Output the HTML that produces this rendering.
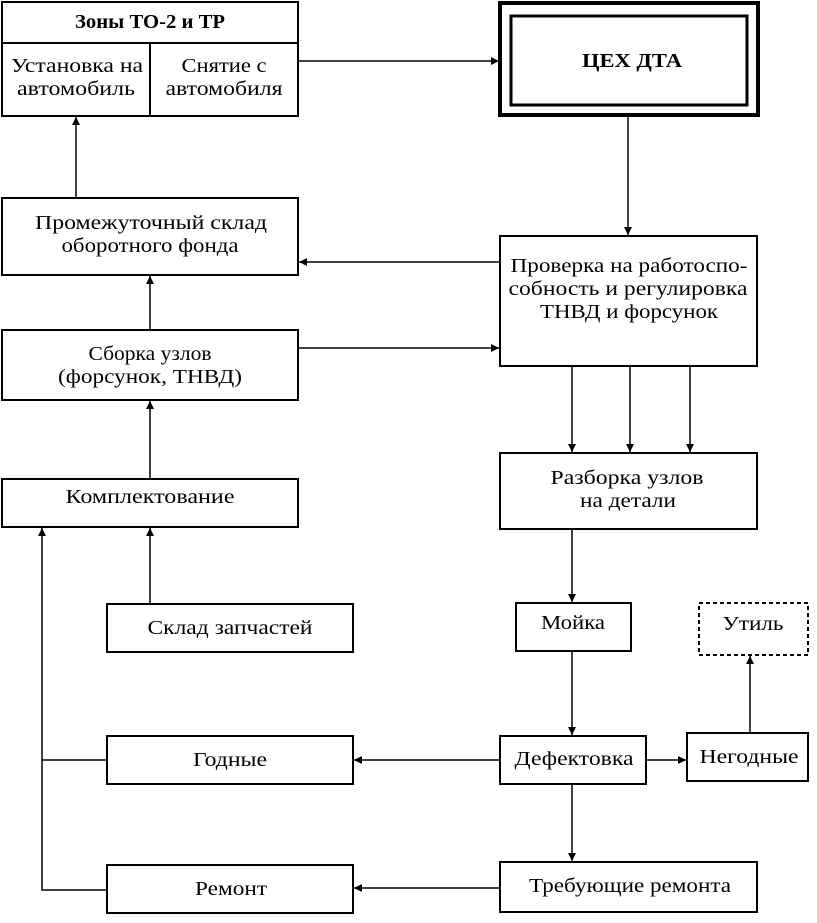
<!DOCTYPE html>
<html><head><meta charset="utf-8"><style>
body{margin:0;background:#fff}
text{font-family:"Liberation Serif",serif;font-size:20px;fill:#000;text-anchor:middle}
</style></head><body>
<svg width="817" height="918" viewBox="0 0 817 918" xmlns="http://www.w3.org/2000/svg">
<defs><marker id="a" viewBox="0 0 10 10" refX="10" refY="5" markerWidth="10" markerHeight="8" markerUnits="userSpaceOnUse" orient="auto"><path d="M0,0L10,5L0,10z"/></marker></defs>
<g fill="none" stroke="#000" stroke-width="2">
<rect x="2" y="2" width="296" height="114"/>
<line x1="2" y1="43" x2="298" y2="43"/>
<line x1="150" y1="43" x2="150" y2="116"/>
<rect x="500" y="3" width="258" height="112" stroke-width="4"/>
<rect x="511" y="16" width="236" height="89" stroke-width="3"/>
<rect x="2" y="198" width="296" height="77"/>
<rect x="500" y="236" width="257" height="130"/>
<rect x="2" y="330" width="296" height="70"/>
<rect x="500" y="453" width="257" height="76"/>
<rect x="2" y="479" width="296" height="48"/>
<rect x="107" y="604" width="246" height="48"/>
<rect x="516" y="603" width="115" height="48"/>
<rect x="699" y="603" width="109" height="52" stroke-dasharray="4,3"/>
<rect x="107" y="736" width="246" height="48"/>
<rect x="500" y="736" width="146" height="48"/>
<rect x="687" y="733" width="121" height="48"/>
<rect x="107" y="865" width="246" height="48"/>
<rect x="500" y="862" width="257" height="50"/>
</g>
<g stroke="#000" stroke-width="1.5" fill="none" marker-end="url(#a)">
<line x1="298" y1="61" x2="499" y2="61"/>
<line x1="628" y1="117" x2="628" y2="235"/>
<line x1="500" y1="262" x2="299" y2="262"/>
<line x1="76" y1="198" x2="76" y2="117"/>
<line x1="150" y1="330" x2="150" y2="276"/>
<line x1="298" y1="348" x2="499" y2="348"/>
<line x1="572" y1="366" x2="572" y2="452"/>
<line x1="630" y1="366" x2="630" y2="452"/>
<line x1="690" y1="366" x2="690" y2="452"/>
<line x1="150" y1="479" x2="150" y2="401"/>
<line x1="150" y1="604" x2="150" y2="528"/>
<polyline points="107,890 42,890 42,528"/>
<line x1="572" y1="529" x2="572" y2="602"/>
<line x1="572" y1="651" x2="572" y2="735"/>
<line x1="500" y1="760" x2="354" y2="760"/>
<line x1="646" y1="760" x2="686" y2="760"/>
<line x1="750" y1="733" x2="750" y2="656"/>
<line x1="572" y1="784" x2="572" y2="861"/>
<line x1="500" y1="888" x2="354" y2="888"/>
</g>
<line x1="42" y1="760" x2="107" y2="760" stroke="#000" stroke-width="1.5"/>
<g lengthAdjust="spacingAndGlyphs">
<text x="150" y="28" font-weight="bold" textLength="150" lengthAdjust="spacingAndGlyphs">Зоны ТО-2 и ТР</text>
<text x="77" y="72" textLength="132" lengthAdjust="spacingAndGlyphs">Установка на</text><text x="76" y="95" textLength="118" lengthAdjust="spacingAndGlyphs">автомобиль</text>
<text x="224" y="72" textLength="85" lengthAdjust="spacingAndGlyphs">Снятие с</text><text x="224" y="95" textLength="117" lengthAdjust="spacingAndGlyphs">автомобиля</text>
<text x="632" y="67" font-weight="bold" textLength="100" lengthAdjust="spacingAndGlyphs">ЦЕХ ДТА</text>
<text x="151" y="229" textLength="232" lengthAdjust="spacingAndGlyphs">Промежуточный склад</text><text x="150" y="252" textLength="177" lengthAdjust="spacingAndGlyphs">оборотного фонда</text>
<text x="629" y="272" textLength="237" lengthAdjust="spacingAndGlyphs">Проверка на работоспо-</text><text x="628" y="295" textLength="239" lengthAdjust="spacingAndGlyphs">собность и регулировка</text><text x="629" y="318" textLength="178" lengthAdjust="spacingAndGlyphs">ТНВД и форсунок</text>
<text x="150" y="360" textLength="123" lengthAdjust="spacingAndGlyphs">Сборка узлов</text><text x="150" y="383" textLength="184" lengthAdjust="spacingAndGlyphs">(форсунок, ТНВД)</text>
<text x="627" y="484" textLength="153" lengthAdjust="spacingAndGlyphs">Разборка узлов</text><text x="628" y="507" textLength="96" lengthAdjust="spacingAndGlyphs">на детали</text>
<text x="150" y="503" textLength="169" lengthAdjust="spacingAndGlyphs">Комплектование</text>
<text x="230" y="634" textLength="165" lengthAdjust="spacingAndGlyphs">Склад запчастей</text>
<text x="573" y="629" textLength="64" lengthAdjust="spacingAndGlyphs">Мойка</text>
<text x="753" y="630" textLength="61" lengthAdjust="spacingAndGlyphs">Утиль</text>
<text x="230" y="766" textLength="74" lengthAdjust="spacingAndGlyphs">Годные</text>
<text x="574" y="765" textLength="119" lengthAdjust="spacingAndGlyphs">Дефектовка</text>
<text x="749" y="763" textLength="99" lengthAdjust="spacingAndGlyphs">Негодные</text>
<text x="231" y="895" textLength="72" lengthAdjust="spacingAndGlyphs">Ремонт</text>
<text x="630" y="892" textLength="202" lengthAdjust="spacingAndGlyphs">Требующие ремонта</text>
</g>
</svg>
</body></html>
